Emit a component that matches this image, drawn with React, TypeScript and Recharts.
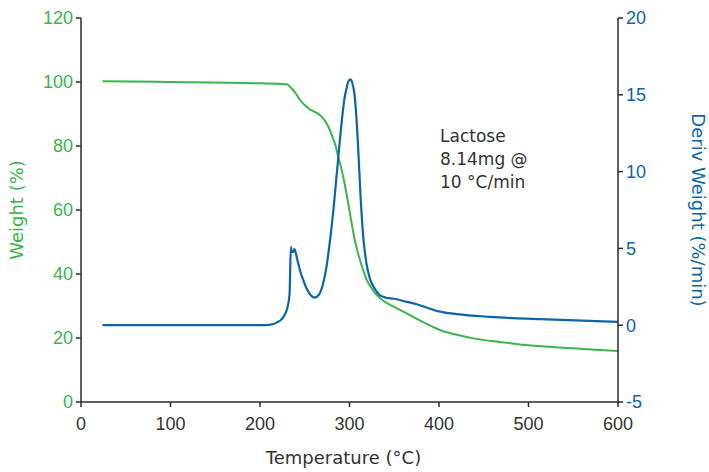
import { LineChart, Line, XAxis, YAxis } from "recharts";

const GREEN = "#3cb44b";
const BLUE = "#0b65a8";
const AXIS = "#2b2b2b";
const FONT = "'DejaVu Sans', sans-serif";
const TICK_FONT = "'Liberation Sans', Arial, sans-serif";

// weight curve (%)
const weightTemp = [24, 100, 200, 226, 230, 233, 237, 240, 245, 250, 254, 258, 263, 267, 271, 275, 278, 281, 284, 287.5, 290, 294, 298, 302, 306, 310, 314, 319, 325, 330, 335, 340, 350, 364, 380, 401, 420, 440, 470, 500, 550, 600];
const weightPct = [100.2, 100.0, 99.6, 99.4, 99.3, 98.7, 97.5, 96.4, 94.3, 92.8, 91.8, 91.1, 90.4, 89.6, 88.5, 86.8, 85.0, 82.8, 80.5, 76.5, 74.0, 69.0, 63.0, 56.5, 50.5, 46.0, 42.3, 38.3, 35.4, 33.6, 32.3, 31.2, 29.7, 27.7, 25.3, 22.5, 21.0, 19.8, 18.7, 17.7, 16.8, 15.9];

// derivative weight (%/min)
const derivTemp = [24, 100, 200, 210, 218, 225, 230, 233, 234.5, 235.5, 237, 238.5, 240, 242, 245, 248, 252, 256, 261, 266, 270, 274, 278, 282, 286, 290, 294, 297, 299, 301, 303, 306, 309, 312, 315, 319, 323, 328, 333, 340, 350, 364, 376, 386, 400, 420, 457, 513, 600];
const derivVal = [0, 0, 0, 0.02, 0.15, 0.45, 1.0, 2.0, 5.1, 4.8, 4.75, 4.95, 4.7, 4.2, 3.5, 3.0, 2.4, 2.0, 1.8, 2.0, 2.6, 3.7, 5.4, 7.5, 10.0, 12.5, 14.6, 15.5, 15.9, 16.0, 15.8, 14.8, 12.3, 8.8, 6.0, 4.0, 3.0, 2.4, 2.0, 1.8, 1.72, 1.52, 1.35, 1.15, 0.9, 0.72, 0.54, 0.39, 0.21];

const xTicks = [0, 100, 200, 300, 400, 500, 600];
const weightTicks = [0, 20, 40, 60, 80, 100, 120];
const derivTicks = [-5, 0, 5, 10, 15, 20];
const noteLines = ["Lactose", "8.14mg @", "10 °C/min"];

const weightData = weightTemp.map((t, i) => ({ t, w: weightPct[i] }));
const derivData = derivTemp.map((t, i) => ({ t, d: derivVal[i] }));

export default function App() {
  return (
    <div style={{ position: "absolute", left: 0, top: 0, width: 709, height: 472, background: "#fff", fontFamily: FONT }}>
      <LineChart width={709} height={472} margin={{ top: 18, right: 0, left: 0, bottom: 0 }}>
        <XAxis
          dataKey="t"
          type="number"
          domain={[0, 600]}
          ticks={xTicks}
          allowDataOverflow
          stroke={AXIS}
          strokeWidth={1.5}
          tickSize={5}
          tickMargin={10}
          tick={{ fill: "#333", fontSize: 18, fontFamily: TICK_FONT }}
          height={70}
          label={{ value: "Temperature (°C)", position: "insideBottom", offset: 8, dx: -6, fill: "#333", fontSize: 18, fontFamily: FONT }}
        />
        <YAxis
          yAxisId="left"
          domain={[0, 120]}
          ticks={weightTicks}
          width={81}
          stroke={AXIS}
          strokeWidth={1.5}
          tickSize={5}
          tickMargin={3}
          tick={{ fill: GREEN, fontSize: 18, fontFamily: TICK_FONT }}
          label={{ value: "Weight (%)", angle: -90, position: "center", dx: -24, fill: GREEN, fontSize: 18, fontFamily: FONT }}
        />
        <YAxis
          yAxisId="right"
          orientation="right"
          domain={[-5, 20]}
          ticks={derivTicks}
          width={91}
          stroke={AXIS}
          strokeWidth={1.5}
          tickSize={5}
          tickMargin={3}
          tick={{ fill: BLUE, fontSize: 18, fontFamily: TICK_FONT }}
          label={{ value: "Deriv Weight (%/min)", angle: 90, position: "center", dx: 35, fill: BLUE, fontSize: 18, fontFamily: FONT }}
        />
        <Line
          yAxisId="left"
          data={weightData}
          dataKey="w"
          type="monotone"
          stroke={GREEN}
          strokeWidth={2}
          dot={false}
          isAnimationActive={false}
        />
        <Line
          yAxisId="right"
          data={derivData}
          dataKey="d"
          type="monotone"
          stroke={BLUE}
          strokeWidth={2.2}
          dot={false}
          isAnimationActive={false}
        />
      </LineChart>
      <div style={{ position: "absolute", left: 440, top: 125, color: "#333", fontSize: 17, lineHeight: "23px" }}>
        {noteLines.map((s) => (
          <div key={s}>{s}</div>
        ))}
      </div>
    </div>
  );
}
